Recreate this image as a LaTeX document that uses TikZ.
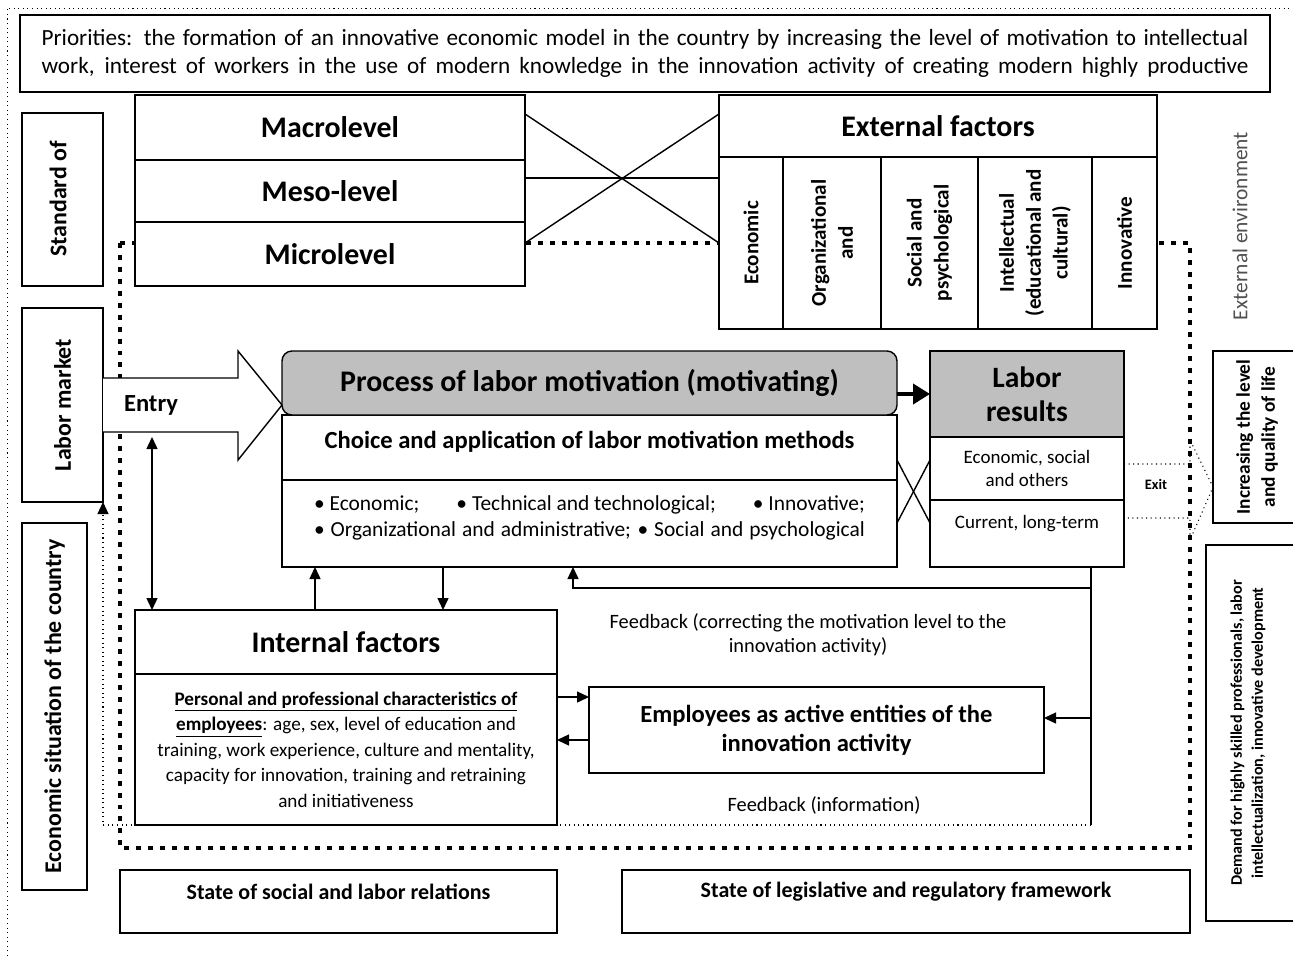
\documentclass[tikz,border=0pt]{standalone}
\usepackage{fontspec}
\setmainfont{Carlito}
\usetikzlibrary{arrows.meta,calc}
\definecolor{procgray}{RGB}{191,191,191}
\definecolor{envgray}{RGB}{80,80,80}
\newcommand\fprio{\fontsize{13.2}{16}\selectfont}
\newcommand\flevel{\fontsize{17}{19}\selectfont\bfseries}
\newcommand\fcol{\fontsize{12}{15.3}\selectfont\bfseries}
\newcommand\fproc{\fontsize{17}{19}\selectfont\bfseries}
\newcommand\fchoice{\fontsize{14}{16}\selectfont\bfseries}
\newcommand\fmeth{\fontsize{12.2}{14.8}\selectfont}
\newcommand\fres{\fontsize{16.8}{19.5}\selectfont\bfseries}
\newcommand\fressub{\fontsize{10.8}{13}\selectfont}
\newcommand\fentry{\fontsize{14}{16}\selectfont\bfseries}
\newcommand\fbody{\fontsize{10.9}{14.5}\selectfont}
\newcommand\fempl{\fontsize{14}{16.5}\selectfont\bfseries}
\newcommand\ffeed{\fontsize{11.6}{13.6}\selectfont}
\newcommand\fstate{\fontsize{12.5}{14}\selectfont\bfseries}
\newcommand\fside{\fontsize{13.6}{16}\selectfont\bfseries}
\newcommand\fincr{\fontsize{11}{14.2}\selectfont\bfseries}
\newcommand\fdem{\fontsize{9.2}{12}\selectfont\bfseries}
\newcommand\fexit{\fontsize{8.2}{10}\selectfont\bfseries}

\begin{document}
\begin{tikzpicture}
[x=0.02cm, y=-0.02cm, >={Triangle[length=2.4mm, width=2.2mm]}, line width=0.8pt,
 box/.style={draw, fill=white, inner sep=0, outer sep=0, align=center},
 boxwh/.style 2 args={minimum width=#1*0.02cm, minimum height=#2*0.02cm},
 envline/.style={line width=2.8pt, dash pattern=on 2.8pt off 4pt},
 thindot/.style={line width=0.6pt, dotted},
 txt/.style={inner sep=0, align=center}]
\useasboundingbox (0,0) rectangle (1293,956);
\draw [thindot, line width=0.5pt] (7,956) -- (7,8) -- (1293,8);
% external environment border
\draw [envline] (120,243) rectangle (1190,848);

% priorities
\node (prio) [box, boxwh={1250}{77}, font=\fprio] at (645,53.5)
  {\makebox[24.14cm][s]{Priorities: the formation of an innovative economic model in the country by increasing the level of motivation to intellectual}\\
   \makebox[24.14cm][s]{work, interest of workers in the use of modern knowledge in the innovation activity of creating modern highly productive}};

% levels
\node (macro) [box, boxwh={390}{65}, font=\flevel] at (330,127.5) {Macrolevel};
\node (meso) [box, boxwh={390}{62}, font=\flevel] at (330,191) {Meso-level};
\node (micro) [box, boxwh={390}{64}, font=\flevel] at (330,254) {Microlevel};

% external factors
\node (ext) [box, boxwh={438}{62}, font=\flevel] at (938,126) {External factors};
\node (econ) [box, rotate=90, boxwh={172}{64}, font=\fcol] at (751,243) {Economic};
\node (org) [box, rotate=90, boxwh={172}{98}, font=\fcol] at (832,243) {Organizational\\and};
\node (socps) [box, rotate=90, boxwh={172}{97}, font=\fcol] at (929.5,243) {Social and\\psychological};
\node (intel) [box, rotate=90, boxwh={172}{114}, font=\fcol] at (1035,243) {Intellectual\\(educational and\\cultural)};
\node (innov) [box, rotate=90, boxwh={172}{65}, font=\fcol] at (1124.5,243) {Innovative};
\draw ($(macro.north east)+(0,19)$) -- ($(ext.south west)+(0,86)$);
\draw ($(micro.north east)+(0,21)$) -- ($(ext.north west)+(0,19)$);
\draw ($(macro.north east)+(0,83)$) -- ($(ext.north west)+(0,83)$);

% side boxes
\node (stand) [box, rotate=90, boxwh={173}{81}] at (62.5,199.5) {};
\node (standtxt) [txt, rotate=90, font=\fside] at (58,199) {Standard of};
\node (labor) [box, rotate=90, boxwh={194}{81}, font=\fside] at (62.5,405) {Labor market};
\node (ecsit) [box, rotate=90, boxwh={367}{65}, font=\fside] at (54.5,706.5) {Economic situation of the country};
\node (extenv) [txt, rotate=90, font=\fontsize{12.2}{14}\selectfont, text=envgray] at (1240,226) {External environment};

% entry arrow
\draw [box] (103,378) -- (238,378) -- (238,351) -- (282,405) -- (238,460) -- (238,432) -- (103,432);
\node (entry) [txt, font=\fentry] at (151,405) {Entry};
\coordinate (entryfoot) at (152,437);

% motivation process
\node (choice) [box, boxwh={615}{65},
  label={[font=\fchoice, yshift=0.11cm]center:Choice and application of labor motivation methods}] at (589.5,447.5) {};
\node (methods) [box, boxwh={615}{87},
  label={[font=\fmeth, yshift=0.11cm, align=center]center:\makebox[11.02cm]{\textbullet\ Economic;\hfill\textbullet\ Technical and technological;\hfill\textbullet\ Innovative;}\\
   \makebox[11.02cm][s]{\textbullet\ Organizational and administrative; \textbullet\ Social and psychological}}] at (589.5,523.5) {};
\node (proc) [box, fill=procgray, rounded corners=0.2cm, boxwh={615}{64}, font=\fproc] at (589.5,383) {Process of labor motivation (motivating)};

% labor results
\node (res) [box, fill=procgray, boxwh={194}{86}, font=\fres] at (1027,394) {Labor\\results};
\node (resA) [box, boxwh={194}{63}, font=\fressub] at (1027,468.5) {Economic, social\\and others};
\node (resB) [box, boxwh={194}{67}] at (1027,533.5) {};
\node (resBtxt) [txt, font=\fressub] at (1027,524) {Current, long-term};
\draw [line width=2.2pt, -{Triangle[length=3.4mm, width=4mm]}] (proc.east |- res.west) -- (res.west);
\draw ($(choice.south east)+(0,-20)$) -- ($(resB.north west)+(0,23)$);
\draw ($(choice.south east)+(0,43)$) -- ($(resA.north west)+(0,23)$);

% exit
\draw [thindot] (resA.east |- 0,464) -- (1190,464) -- (1190,440) -- (1213,487) -- (1190,540) -- (1190,518) -- (resB.east |- 0,518);
\node (exit) [txt, font=\fexit] at (1156,484) {Exit};
\node (incr) [box, rotate=90, boxwh={172}{92}] at (1259,437) {};
\node (incrtxt) [txt, rotate=90, font=\fincr] at (1257,437) {Increasing the level\\and quality of life};
\node (dem) [box, rotate=90, boxwh={376}{94}] at (1253,733) {};
\node (demtxt) [txt, rotate=90, font=\fdem] at (1248,733) {Demand for highly skilled professionals, labor\\intellectualization, innovative development};

% internal factors
\node (intf) [box, boxwh={422}{64}, font=\flevel] at (346,642) {Internal factors};
\node (intb) [box, boxwh={422}{151}, font=\fbody] at (346,749.5)
  {{\bfseries\underline{Personal and professional characteristics of}}\\
   {\bfseries\underline{employees}}: age, sex, level of education and\\
   training, work experience, culture and mentality,\\
   capacity for innovation, training and retraining\\
   and initiativeness};
\node (empl) [box, boxwh={455}{86}, font=\fempl] at (816.5,730) {Employees as active entities of the\\innovation activity};

% connectors
\draw [<->] (entryfoot) -- (152,0 |- intf.north);
\draw [->] (315,0 |- intf.north) -- (315,0 |- methods.south);
\draw [->] (443,0 |- methods.south) -- (443,0 |- intf.north);
\draw [->] (intb.east |- 0,697) -- (empl.west |- 0,697);
\draw [->] (empl.west |- 0,740) -- (intb.east |- 0,740);
\draw [->] (1091,0 |- resB.south) -- (1091,588) -- (573,588) -- (573,0 |- methods.south);
\draw (1091,588) -- (1091,825);
\draw [->] (1091,718) -- (empl.east |- 0,718);
\draw [thindot, ->] (1091,825) -- (labor.south west |- 0,825) -- (labor.south west);
\node (fb1) [txt, font=\ffeed] at (808,635) {Feedback (correcting the motivation level to the\\innovation activity)};
\node (fb2) [txt, font=\ffeed] at (824,805) {Feedback (information)};

% bottom boxes
\node (soc) [box, boxwh={437}{63}] at (338.5,901.5) {};
\node (soctxt) [txt, font=\fstate] at (338.5,892) {State of social and labor relations};
\node (leg) [box, boxwh={568}{63}] at (906,901.5) {};
\node (legtxt) [txt, font=\fstate] at (906,892) {State of legislative and regulatory framework};
\end{tikzpicture}
\end{document}
